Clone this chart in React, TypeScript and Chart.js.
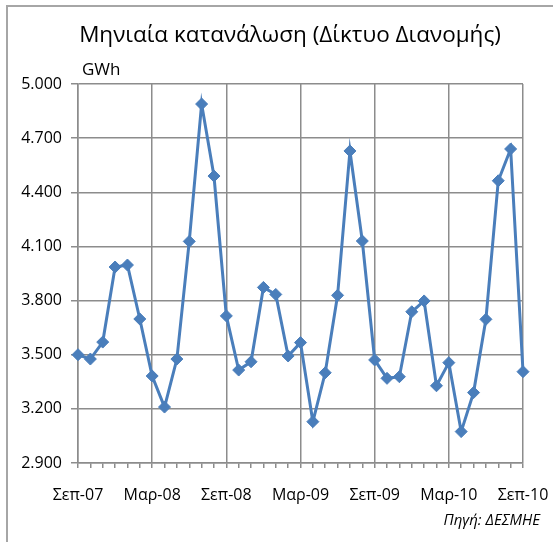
import React, { useEffect, useRef } from 'react';
import { Chart, registerables } from 'chart.js';

Chart.register(...registerables);

const TITLE = 'Μηνιαία κατανάλωση (Δίκτυο Διανομής)';
const UNIT = 'GWh';
const SOURCE = 'Πηγή: ΔΕΣΜΗΕ';

const months = [
  'Σεπ-07', 'Οκτ-07', 'Νοε-07', 'Δεκ-07',
  'Ιαν-08', 'Φεβ-08', 'Μαρ-08', 'Απρ-08', 'Μαϊ-08', 'Ιουν-08', 'Ιουλ-08', 'Αυγ-08', 'Σεπ-08', 'Οκτ-08', 'Νοε-08', 'Δεκ-08',
  'Ιαν-09', 'Φεβ-09', 'Μαρ-09', 'Απρ-09', 'Μαϊ-09', 'Ιουν-09', 'Ιουλ-09', 'Αυγ-09', 'Σεπ-09', 'Οκτ-09', 'Νοε-09', 'Δεκ-09',
  'Ιαν-10', 'Φεβ-10', 'Μαρ-10', 'Απρ-10', 'Μαϊ-10', 'Ιουν-10', 'Ιουλ-10', 'Αυγ-10', 'Σεπ-10',
];

const consumption = [
  3500, 3476, 3570, 3986,
  3997, 3698, 3382, 3210, 3476, 4128, 4889, 4490, 3715, 3415, 3461, 3873,
  3834, 3493, 3567, 3129, 3400, 3829, 4629, 4130, 3471, 3369, 3378, 3738,
  3798, 3328, 3456, 3074, 3290, 3696, 4464, 4640, 3406,
];

const yMin = 2900;
const yMax = 5000;
const yStep = 300;
const labelEvery = 6;

const fmt = (v: number) => {
  const th = Math.floor(v / 1000);
  const rest = String(Math.round(v % 1000)).padStart(3, '0');
  return `${th}.${rest}`;
};

export default function App() {
  const ref = useRef<HTMLCanvasElement | null>(null);

  useEffect(() => {
    if (!ref.current) return;
    const gray = '#8c8c8c';
    const blue = '#4a7ebb';
    const font = 'Open Sans';

    const textPlugin = {
      id: 'texts',
      afterDraw(chart: any) {
        const c = chart.ctx;
        c.save();
        c.fillStyle = '#000';
        c.textBaseline = 'middle';
        c.textAlign = 'center';
        c.font = `22.5px "${font}"`;
        c.fillText(TITLE, 290, 36);
        c.textAlign = 'left';
        c.font = `17px "${font}"`;
        c.fillText(UNIT, 82, 70);
        c.textAlign = 'right';
        c.font = `italic 15px "${font}"`;
        c.fillText(SOURCE, 540, 521);
        c.restore();
      },
    };

    const chart = new Chart(ref.current, {
      type: 'line',
      data: {
        labels: months,
        datasets: [
          {
            data: consumption,
            borderColor: blue,
            backgroundColor: blue,
            borderWidth: 3,
            pointStyle: 'rectRot',
            pointRadius: 6,
            pointBorderWidth: 1,
            pointBackgroundColor: blue,
            pointBorderColor: blue,
            tension: 0,
          },
        ],
      },
      options: {
        responsive: false,
        animation: false,
        devicePixelRatio: 1,
        layout: { padding: { left: 0, top: 84, right: 30, bottom: 29 } },
        plugins: {
          legend: { display: false },
          title: { display: false },
          tooltip: { enabled: false },
        },
        scales: {
          x: {
            type: 'category',
            offset: false,
            grid: {
              color: (ctx: any) => (ctx.index % labelEvery === 0 ? gray : 'rgba(0,0,0,0)'),
              tickColor: gray,
              tickLength: 5,
              lineWidth: 1.5,
            },
            border: { color: gray, width: 1.5 },
            ticks: {
              autoSkip: false,
              maxRotation: 0,
              minRotation: 0,
              padding: 18,
              color: '#000',
              font: { family: font, size: 16 },
              callback: (_v: any, i: number) => (i % labelEvery === 0 ? months[i] : ''),
            },
            afterFit: (s: any) => {
              s.height = 50;
              s.paddingLeft = 0;
              s.paddingRight = 0;
            },
          },
          y: {
            min: yMin,
            max: yMax,
            grid: { color: gray, tickColor: gray, tickLength: 7, lineWidth: 1.5 },
            border: { color: gray, width: 1.5 },
            ticks: {
              stepSize: yStep,
              padding: 9,
              color: '#000',
              font: { family: font, size: 16 },
              callback: (v: any) => fmt(Number(v)),
            },
            afterFit: (s: any) => {
              s.width = 78;
              s.paddingTop = 0;
              s.paddingBottom = 0;
            },
          },
        },
      },
      plugins: [textPlugin],
    } as any);

    return () => chart.destroy();
  }, []);

  return (
    <div>
      <div
        style={{
          position: 'fixed',
          left: 6,
          top: 5,
          right: 0,
          bottom: 0,
          borderLeft: '2px solid #a6a6a6',
          borderTop: '2px solid #a6a6a6',
        }}
      />
      <canvas
        ref={ref}
        width={553}
        height={542}
        style={{ position: 'fixed', left: 0, top: 0, width: 553, height: 542 }}
      />
    </div>
  );
}
